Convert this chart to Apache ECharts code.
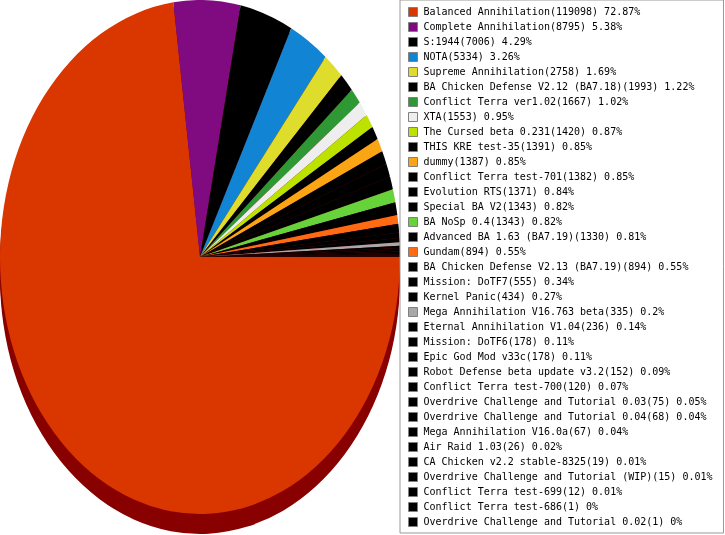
<!DOCTYPE html>
<html>
<head>
<meta charset="utf-8">
<script src="https://cdn.jsdelivr.net/npm/echarts@6/dist/echarts.min.js"></script>
<style>
  html, body { margin: 0; padding: 0; background: #fff; }
  #wrap { position: relative; width: 725px; height: 535px; overflow: hidden; }
  /* pie is drawn round, then squashed into the tall ellipse of the original */
  #pie { position: absolute; left: 0; top: 0; width: 400px; height: 420px;
         transform: scaleY(1.285); transform-origin: 0 0; }
  #legend { position: absolute; left: 0; top: 0; width: 725px; height: 535px; }
</style>
</head>
<body>
<div id="wrap">
  <div id="pie"></div>
  <div id="legend"></div>
</div>
<script>
// mods and the number of games played with each
var names = [
  'Balanced Annihilation', 'Complete Annihilation', 'S:1944', 'NOTA',
  'Supreme Annihilation', 'BA Chicken Defense V2.12 (BA7.18)', 'Conflict Terra ver1.02',
  'XTA', 'The Cursed beta 0.231', 'THIS KRE test-35', 'dummy', 'Conflict Terra test-701',
  'Evolution RTS', 'Special BA V2', 'BA NoSp 0.4', 'Advanced BA 1.63 (BA7.19)', 'Gundam',
  'BA Chicken Defense V2.13 (BA7.19)', 'Mission: DoTF7', 'Kernel Panic',
  'Mega Annihilation V16.763 beta', 'Eternal Annihilation V1.04', 'Mission: DoTF6',
  'Epic God Mod v33c', 'Robot Defense beta update v3.2', 'Conflict Terra test-700',
  'Overdrive Challenge and Tutorial 0.03', 'Overdrive Challenge and Tutorial 0.04',
  'Mega Annihilation V16.0a', 'Air Raid 1.03', 'CA Chicken v2.2 stable-8325',
  'Overdrive Challenge and Tutorial (WIP)', 'Conflict Terra test-699',
  'Conflict Terra test-686', 'Overdrive Challenge and Tutorial 0.02'
];
var values = [
  119098, 8795, 7006, 5334, 2758, 1993, 1667, 1553, 1420, 1391, 1387, 1382,
  1371, 1343, 1343, 1330, 894, 894, 555, 434, 335, 236, 178, 178, 152, 120,
  75, 68, 67, 26, 19, 15, 12, 1, 1
];
var colors = [
  '#da3600', '#800a80', '#000000', '#1185d3', '#dedd2c', '#000000', '#2e9934',
  '#eeeeee', '#bce300', '#000000', '#f9a514', '#000000', '#000000', '#000000',
  '#66d33b', '#000000', '#ff6a12', '#000000', '#000000', '#000000', '#a8a8a8',
  '#000000', '#000000', '#000000', '#000000', '#000000', '#000000', '#000000',
  '#000000', '#000000', '#000000', '#000000', '#000000', '#000000', '#000000'
];
var shadowColor = '#880000';

var total = values.reduce(function (a, b) { return a + b; }, 0);

function pieData(colorOf) {
  return names.map(function (n, i) {
    return { name: n, value: values[i], itemStyle: { color: colorOf(i) } };
  });
}

// ---- pie (with a dark extruded edge underneath) ----
var pie = echarts.init(document.getElementById('pie'), null, { renderer: 'svg' });
var depths = [15.5, 12, 8, 4];
var series = depths.map(function (d) {
  return {
    type: 'pie', silent: true, center: [200, 200 + d], radius: 200,
    startAngle: 0, clockwise: true, label: { show: false }, labelLine: { show: false },
    data: pieData(function () { return shadowColor; })
  };
});
series.push({
  type: 'pie', silent: true, center: [200, 200], radius: 200,
  startAngle: 0, clockwise: true, label: { show: false }, labelLine: { show: false },
  itemStyle: { borderWidth: 0 },
  data: pieData(function (i) { return colors[i]; })
});
pie.setOption({ animation: false, series: series });

// ---- legend ----
var leg = echarts.init(document.getElementById('legend'));
leg.setOption({
  animation: false,
  legend: {
    orient: 'vertical', left: 400, top: 0,
    padding: [7, 11, 6, 8],
    itemGap: 5, itemWidth: 9, itemHeight: 9,
    backgroundColor: '#fff', borderColor: '#999', borderWidth: 1,
    selectedMode: false, icon: 'rect',
    itemStyle: { borderColor: '#808080', borderWidth: 1 },
    textStyle: { fontFamily: 'DejaVu Sans Mono', fontSize: 10, color: '#000', padding: [0, 0, 0, 1] },
    formatter: function (name) {
      var v = values[names.indexOf(name)];
      return name + '(' + v + ') ' + (+(v / total * 100).toFixed(2)) + '%';
    }
  },
  series: [{
    type: 'pie', silent: true, radius: 0, center: [-100, -100],
    label: { show: false }, data: pieData(function (i) { return colors[i]; })
  }]
});
</script>
</body>
</html>
